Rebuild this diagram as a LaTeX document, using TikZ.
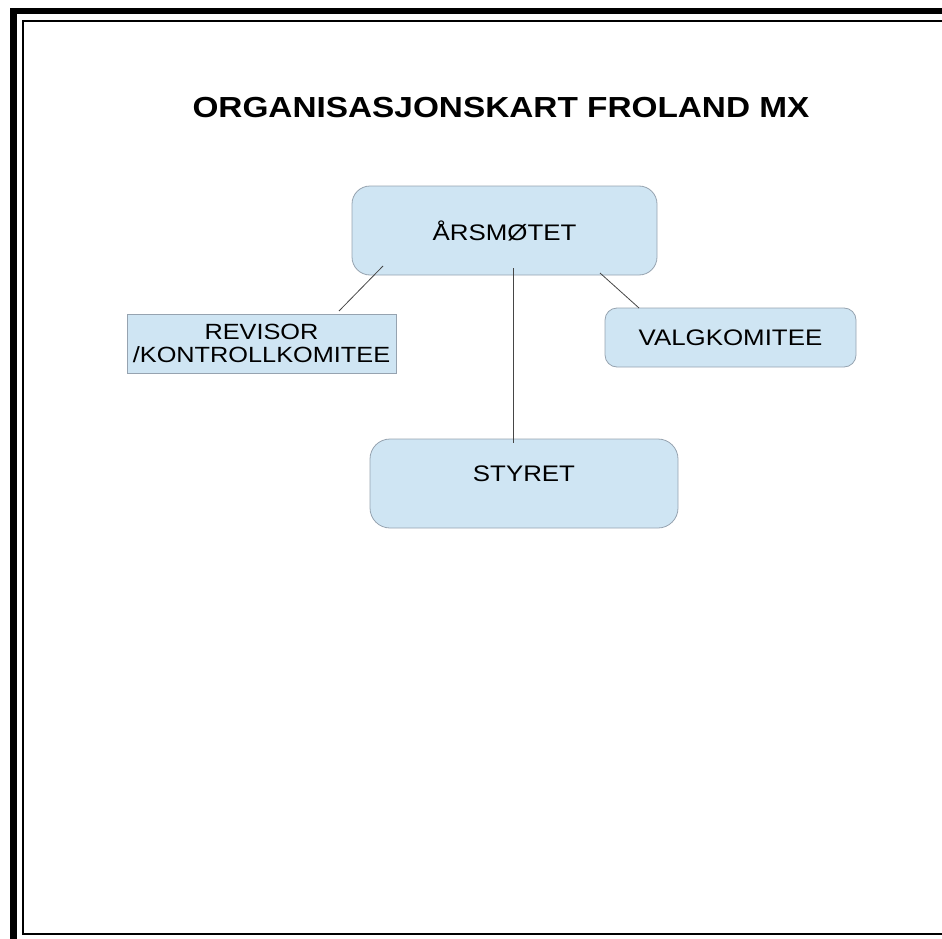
\documentclass[tikz,border=0pt]{standalone}
\usepackage{fontspec}
\setmainfont{Liberation Sans}
\newfontfamily\orgfont[FakeStretch=1.15]{Liberation Sans}
\usepackage{xcolor}
\usepackage{tikz}
\usetikzlibrary{positioning,calc}
\definecolor{boxblue}{RGB}{207,229,243}
\definecolor{boxline}{RGB}{150,163,176}
\definecolor{linkgray}{RGB}{70,70,70}

\begin{document}
\begin{tikzpicture}[x=1pt, y=-1pt,
    orgbox/.style={draw=boxline, fill=boxblue, line width=0.8pt, inner sep=0pt, outer sep=0pt,
        font=\orgfont\fontsize{22.5}{22}\selectfont},
    link/.style={draw=linkgray, line width=0.8pt}]
    \useasboundingbox (0,0) rectangle (942,939);

    % Page frame
    \fill (10,8) rectangle (17,939);
    \fill (10,8) rectangle (942,14);
    \draw[line width=1.5pt] (942,21) -- (23,21) -- (23,934) -- (942,934);

    % Title
    \node[anchor=base, inner sep=0pt, font=\orgfont\bfseries\fontsize{29}{30}\selectfont] (title) at (501,118) {ORGANISASJONSKART FROLAND MX};

    % Boxes
    \node[orgbox, rounded corners=18pt, minimum width=305pt, minimum height=89pt] (arsmote) at (504.5,230.5) {ÅRSMØTET};
    \node[orgbox, minimum width=269pt, minimum height=59pt, align=center,
        font=\orgfont\fontsize{22}{23.5}\selectfont] (revisor) at (261.5,343.5) {REVISOR\\/KONTROLLKOMITEE};
    \node[orgbox, rounded corners=12pt, minimum width=251pt, minimum height=59pt] (valg) at (730.5,337.5) {VALGKOMITEE};
    \node[orgbox, rounded corners=20pt, minimum width=308pt, minimum height=89pt,
        text height=16pt, text depth=21pt] (styret) at (524,483.5) {STYRET};

    % Connector ends
    \coordinate (a1) at ($(arsmote.south west)+(31,-9)$);
    \coordinate (r1) at ($(revisor.north)+(77.5,-3)$);
    \coordinate (a2) at ($(arsmote.south)+(8.5,-7)$);
    \coordinate (s1) at ($(styret.north)+(-11,4)$);
    \coordinate (a3) at ($(arsmote.south east)+(-57,-2)$);
    \coordinate (v1) at ($(valg.north west)+(34,0)$);

    \draw[link] (a1) -- (r1);
    \draw[link] (a2) -- (s1);
    \draw[link] (a3) -- (v1);
\end{tikzpicture}
\end{document}
